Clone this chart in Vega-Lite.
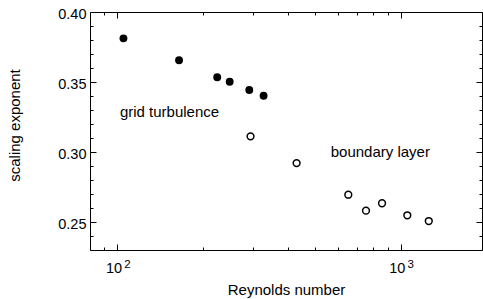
{
  "$schema": "https://vega.github.io/schema/vega-lite/v6.json",
  "width": 392,
  "height": 238,
  "autosize": {"type": "none"},
  "padding": {"left": 90, "top": 12, "right": 1, "bottom": 49},
  "background": "white",
  "config": {
    "view": {"stroke": "black", "strokeWidth": 1},
    "axis": {
      "domain": false,
      "grid": false,
      "labelFont": "Liberation Sans",
      "titleFont": "Liberation Sans",
      "labelColor": "black",
      "titleColor": "black",
      "tickColor": "black",
      "tickWidth": 1,
      "labelFontSize": 14.5,
      "titleFontSize": 15,
      "titleFontWeight": "normal",
      "labelOverlap": false,
      "labelFlush": false,
      "labelBound": false
    }
  },
  "datasets": {
    "grid": [
      {"Re": 105, "exponent": 0.3812},
      {"Re": 165, "exponent": 0.3655},
      {"Re": 225, "exponent": 0.3534},
      {"Re": 249, "exponent": 0.3502},
      {"Re": 292, "exponent": 0.3443},
      {"Re": 328, "exponent": 0.3402}
    ],
    "boundary": [
      {"Re": 295, "exponent": 0.3112},
      {"Re": 429, "exponent": 0.2921},
      {"Re": 653, "exponent": 0.2695},
      {"Re": 754, "exponent": 0.2581},
      {"Re": 859, "exponent": 0.2634},
      {"Re": 1055, "exponent": 0.2548},
      {"Re": 1256, "exponent": 0.2507}
    ],
    "labels": [
      {"Re": 102, "exponent": 0.325, "label": "grid turbulence"},
      {"Re": 566, "exponent": 0.2964, "label": "boundary layer"}
    ]
  },
  "layer": [
    {
      "data": {"name": "grid"},
      "mark": {"type": "point", "filled": true, "color": "black", "size": 62, "opacity": 1},
      "encoding": {
        "x": {
          "field": "Re", "type": "quantitative",
          "scale": {"type": "log", "domain": [80, 1936], "nice": false},
          "axis": {
            "orient": "bottom",
            "values": [90, 100, 200, 300, 400, 500, 600, 700, 800, 900, 1000],
            "tickSize": {"condition": {"test": "datum.value == 100 || datum.value == 1000", "value": -6}, "value": -3},
            "labelExpr": "datum.value == 100 || datum.value == 1000 ? '10' : ''",
            "labelOffset": -4,
            "labelPadding": 17,
            "title": "Reynolds number",
            "titleBaseline": "alphabetic",
            "titleY": 44
          }
        },
        "y": {
          "field": "exponent", "type": "quantitative",
          "scale": {"domain": [0.23, 0.40], "nice": false, "zero": false},
          "axis": {
            "orient": "left",
            "values": [0.23, 0.24, 0.25, 0.26, 0.27, 0.28, 0.29, 0.3, 0.31, 0.32, 0.33, 0.34, 0.35, 0.36, 0.37, 0.38, 0.39, 0.4],
            "tickSize": {"condition": {"test": "abs(datum.value * 20 - round(datum.value * 20)) < 0.001", "value": -6}, "value": -3},
            "labelExpr": "abs(datum.value * 20 - round(datum.value * 20)) < 0.001 ? format(datum.value, '.2f') : ''",
            "labelPadding": 10,
            "labelOffset": 2,
            "title": "scaling exponent",
            "titleAngle": 270,
            "titleAlign": "center",
            "titleBaseline": "middle",
            "titleX": -76,
            "titleY": 113
          }
        }
      }
    },
    {
      "data": {"name": "boundary"},
      "mark": {"type": "point", "filled": false, "stroke": "black", "fill": "white", "fillOpacity": 1, "strokeWidth": 1.5, "size": 46, "opacity": 1},
      "encoding": {
        "x": {
          "field": "Re", "type": "quantitative",
          "axis": {
            "orient": "top",
            "values": [90, 100, 200, 300, 400, 500, 600, 700, 800, 900, 1000],
            "tickSize": {"condition": {"test": "datum.value == 100 || datum.value == 1000", "value": -6}, "value": -3},
            "labels": false,
            "title": null
          }
        },
        "y": {
          "field": "exponent", "type": "quantitative",
          "axis": {
            "orient": "right",
            "values": [0.23, 0.24, 0.25, 0.26, 0.27, 0.28, 0.29, 0.3, 0.31, 0.32, 0.33, 0.34, 0.35, 0.36, 0.37, 0.38, 0.39, 0.4],
            "tickSize": {"condition": {"test": "abs(datum.value * 20 - round(datum.value * 20)) < 0.001", "value": -6}, "value": -3},
            "labels": false,
            "title": null
          }
        }
      }
    },
    {
      "data": {"name": "labels"},
      "mark": {"type": "text", "align": "left", "baseline": "alphabetic", "font": "Liberation Sans", "fontSize": 15, "color": "black"},
      "encoding": {
        "x": {
          "field": "Re", "type": "quantitative",
          "axis": {
            "orient": "bottom",
            "values": [100, 1000],
            "ticks": false,
            "labelExpr": "datum.value == 100 ? '2' : datum.value == 1000 ? '3' : ''",
            "labelFontSize": 11.5,
            "labelOffset": 9.5,
            "labelPadding": 8,
            "title": null
          }
        },
        "y": {"field": "exponent", "type": "quantitative", "axis": null},
        "text": {"field": "label"}
      }
    }
  ],
  "resolve": {"axis": {"x": "independent", "y": "independent"}}
}
